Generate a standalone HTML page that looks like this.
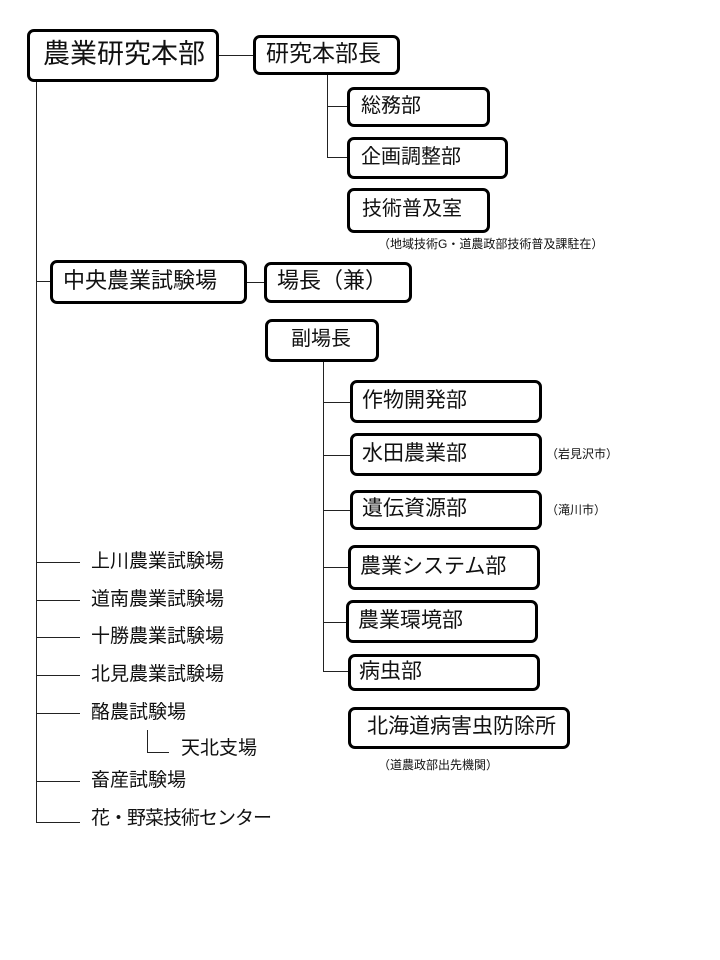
<!DOCTYPE html>
<html><head><meta charset="utf-8"><style>
body{margin:0;width:720px;height:960px;background:#fff;position:relative;font-family:"Liberation Sans","Noto Sans CJK JP",sans-serif;color:#111;overflow:hidden}
.b{position:absolute;box-sizing:border-box;border:3px solid #000;border-radius:7px;background:#fff;white-space:nowrap;display:flex;align-items:center;line-height:1;padding-bottom:3px}
.t{position:absolute;white-space:nowrap;line-height:1}
.h{position:absolute;height:1px;background:#222}
.v{position:absolute;width:1px;background:#222}
</style></head><body>
<div class="v" style="left:36px;top:82px;height:741px"></div>
<div class="h" style="left:219px;top:55px;width:34px"></div>
<div class="v" style="left:327px;top:75px;height:82px"></div>
<div class="h" style="left:327px;top:106px;width:20px"></div>
<div class="h" style="left:327px;top:157px;width:20px"></div>
<div class="h" style="left:36px;top:281px;width:14px"></div>
<div class="h" style="left:247px;top:282px;width:17px"></div>
<div class="v" style="left:323px;top:362px;height:309px"></div>
<div class="h" style="left:323px;top:402px;width:27px"></div>
<div class="h" style="left:323px;top:455px;width:27px"></div>
<div class="h" style="left:323px;top:510px;width:27px"></div>
<div class="h" style="left:323px;top:567px;width:25px"></div>
<div class="h" style="left:323px;top:622px;width:23px"></div>
<div class="h" style="left:323px;top:671px;width:25px"></div>

<div class="b" style="left:27px;top:29px;width:192px;height:53px;font-size:27px;padding-left:13px">農業研究本部</div>
<div class="b" style="left:253px;top:35px;width:147px;height:40px;font-size:23px;padding-left:10px">研究本部長</div>
<div class="b" style="left:347px;top:87px;width:143px;height:40px;font-size:20px;padding-left:11px">総務部</div>
<div class="b" style="left:347px;top:137px;width:161px;height:42px;font-size:20px;padding-left:11px">企画調整部</div>
<div class="b" style="left:347px;top:188px;width:143px;height:45px;font-size:20px;padding-left:12px">技術普及室</div>
<div class="t" style="left:378px;top:238px;font-size:12px">（地域技術G・道農政部技術普及課駐在）</div>

<div class="b" style="left:50px;top:260px;width:197px;height:44px;font-size:22px;padding-left:10px">中央農業試験場</div>
<div class="b" style="left:264px;top:262px;width:148px;height:41px;font-size:22px;padding-left:10px">場長（兼）</div>
<div class="b" style="left:265px;top:319px;width:114px;height:43px;font-size:20px;padding-left:23px">副場長</div>

<div class="b" style="left:350px;top:380px;width:192px;height:43px;font-size:21px;padding-left:9px">作物開発部</div>
<div class="b" style="left:350px;top:433px;width:192px;height:43px;font-size:21px;padding-left:9px">水田農業部</div>
<div class="t" style="left:546px;top:448px;font-size:12px">（岩見沢市）</div>
<div class="b" style="left:350px;top:490px;width:192px;height:40px;font-size:21px;padding-left:9px">遺伝資源部</div>
<div class="t" style="left:546px;top:504px;font-size:12px">（滝川市）</div>
<div class="b" style="left:348px;top:545px;width:192px;height:45px;font-size:21px;padding-left:9px">農業システム部</div>
<div class="b" style="left:346px;top:600px;width:192px;height:43px;font-size:21px;padding-left:9px">農業環境部</div>
<div class="b" style="left:348px;top:654px;width:192px;height:37px;font-size:21px;padding-left:8px">病虫部</div>
<div class="b" style="left:348px;top:707px;width:222px;height:42px;font-size:21px;padding-left:16px">北海道病害虫防除所</div>
<div class="t" style="left:378px;top:759px;font-size:12px">（道農政部出先機関）</div>

<div class="h" style="left:36px;top:562px;width:44px"></div>
<div class="t" style="left:91px;top:552px;font-size:19px">上川農業試験場</div>
<div class="h" style="left:36px;top:600px;width:44px"></div>
<div class="t" style="left:91px;top:590px;font-size:19px">道南農業試験場</div>
<div class="h" style="left:36px;top:637px;width:44px"></div>
<div class="t" style="left:91px;top:627px;font-size:19px">十勝農業試験場</div>
<div class="h" style="left:36px;top:675px;width:44px"></div>
<div class="t" style="left:91px;top:665px;font-size:19px">北見農業試験場</div>
<div class="h" style="left:36px;top:713px;width:44px"></div>
<div class="t" style="left:91px;top:703px;font-size:19px">酪農試験場</div>
<div class="v" style="left:147px;top:730px;height:22px"></div>
<div class="h" style="left:147px;top:752px;width:22px"></div>
<div class="t" style="left:181px;top:739px;font-size:19px">天北支場</div>
<div class="h" style="left:36px;top:781px;width:44px"></div>
<div class="t" style="left:91px;top:771px;font-size:19px">畜産試験場</div>
<div class="h" style="left:36px;top:822px;width:44px"></div>
<div class="t" style="left:91px;top:809px;font-size:19px;letter-spacing:-1px">花・野菜技術センター</div>
</body></html>
